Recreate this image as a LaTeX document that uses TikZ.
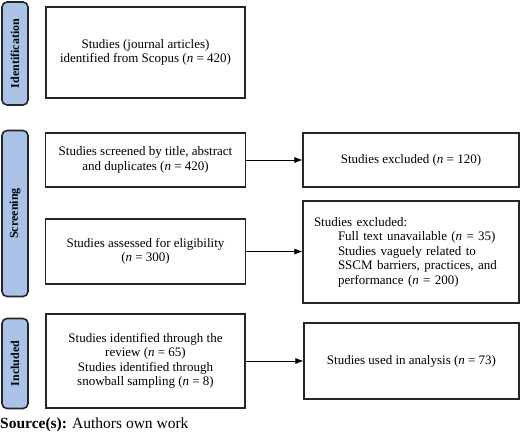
\documentclass[tikz,border=0pt]{standalone}
\usepackage{fontspec}
\setmainfont{Liberation Serif}
\usetikzlibrary{arrows.meta}
\definecolor{sidefill}{HTML}{A9C3E8}
\tikzset{
  sidelabel/.style={draw=black!85, line width=1.6pt, fill=sidefill, rounded corners=5pt,
    rotate=90, minimum height=26pt, inner sep=0pt, font=\fontsize{12}{14}\selectfont\bfseries},
  box/.style={draw=black!85, line width=1.1pt, inner sep=0pt, align=center,
    font=\fontsize{13}{14.5}\selectfont},
  arr/.style={-{Latex[length=8pt,width=6pt]}, line width=0.6pt},
}
\begin{document}
\begin{tikzpicture}[x=1pt,y=-1pt]
\useasboundingbox (0,0) rectangle (520,437);
% side labels
\node[sidelabel, minimum width=103pt] (lid) at (15,53.5) {Identification};
\node[sidelabel, minimum width=166pt] (lsc) at (15,213.5) {Screening};
\node[sidelabel, minimum width=90pt] (lin) at (15,363.5) {Included};
% left boxes
\node[box, minimum width=199pt, minimum height=91pt] (ident) at (145.5,52.5)
  {Studies (journal articles)\\identified from Scopus (\textit{n} = 420)};
\node[box, minimum width=200pt, minimum height=54pt] (scr) at (145.5,160)
  {Studies screened by title, abstract\\and duplicates (\textit{n} = 420)};
\node[box, minimum width=200pt, minimum height=65pt] (elig) at (145.5,251.5)
  {Studies assessed for eligibility\\(\textit{n} = 300)};
\node[box, minimum width=199pt, minimum height=94pt] (incl) at (145.5,361)
  {Studies identified through the\\review (\textit{n} = 65)\\Studies identified through\\snowball sampling (\textit{n} = 8)};
% right boxes
\node[box, minimum width=216pt, minimum height=54pt] (exc1) at (411,160)
  {Studies excluded (\textit{n} = 120)};
\node[box, minimum width=216pt, minimum height=102pt, align=left, text width=194pt] (exc2) at (411,252)
  {Studies excluded:\\
   \hspace*{24pt}Full text unavailable (\textit{n} = 35)\\
   \hspace*{24pt}Studies vaguely related to\\
   \hspace*{24pt}SSCM barriers, practices, and\\
   \hspace*{24pt}performance (\textit{n} = 200)};
\node[box, minimum width=215pt, minimum height=76pt] (anal) at (411.5,361)
  {Studies used in analysis (\textit{n} = 73)};
% arrows
\draw[arr] (scr.east) -- (exc1.west);
\draw[arr] (elig.east) -- (elig.east -| exc2.west);
\draw[arr] (incl.east) -- (anal.west);
% caption
\node[anchor=west, inner sep=0pt, font=\fontsize{15.5}{17}\selectfont] (src) at (0,425)
  {\textbf{Source(s):} Authors own work};
\end{tikzpicture}
\end{document}
